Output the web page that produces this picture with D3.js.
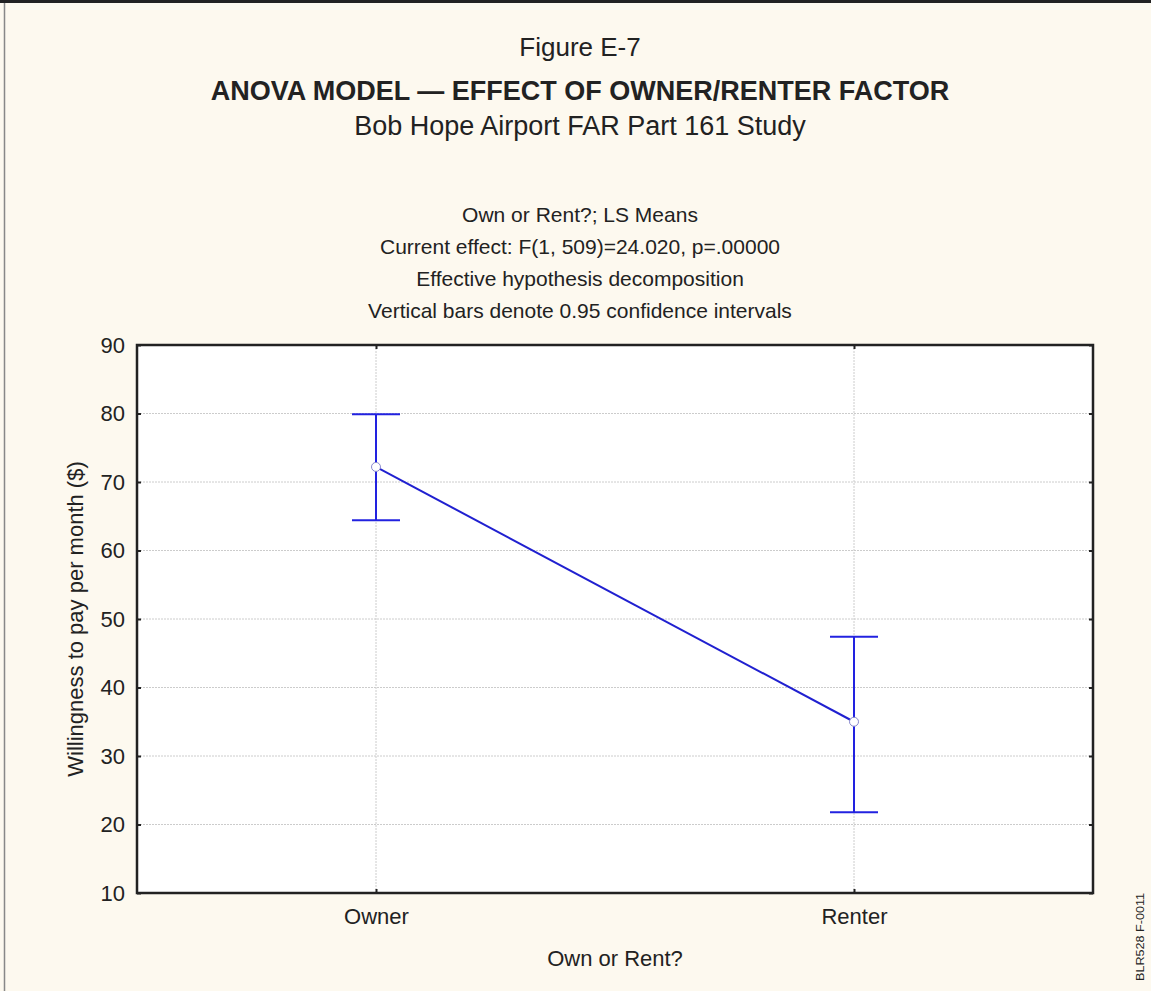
<!doctype html>
<html>
  <head>
    <script src="https://cdnjs.cloudflare.com/ajax/libs/d3/7.8.5/d3.min.js"></script>
    <style>
      body { margin: 0; background: #fdf9ef; }
      svg { display: block; }
      text { font-family: "Liberation Sans", Arial, sans-serif; fill: #222; }
    </style>
  </head>
  <body>
    <svg width="1151" height="991"></svg>
    <script>
        // data
        var groups = ["Owner", "Renter"];
        var means = [72.2, 35.0];
        var upper = [79.9, 47.4];
        var lower = [64.4, 21.8];
        var yTicks = [10, 20, 30, 40, 50, 60, 70, 80, 90];
        var statLines = [
            "Own or Rent?; LS Means",
            "Current effect: F(1, 509)=24.020, p=.00000",
            "Effective hypothesis decomposition",
            "Vertical bars denote 0.95 confidence intervals"
        ];

        var svg = d3.select("svg");
        var pLeft = 137, pRight = 1093, pTop = 345, pBottom = 893;

        // page frame
        svg.append("rect").attr("x", 0).attr("y", 0).attr("width", 1151).attr("height", 991).attr("fill", "#fdf9ef");
        svg.append("line").attr("x1", 0).attr("x2", 1151).attr("y1", 1.5).attr("y2", 1.5).attr("stroke", "#222").attr("stroke-width", 3);
        svg.append("line").attr("x1", 4.5).attr("x2", 4.5).attr("y1", 3).attr("y2", 991).attr("stroke", "#888").attr("stroke-width", 1.5);

        // titles
        svg.append("text").attr("x", 580).attr("y", 56).attr("text-anchor", "middle")
            .style("font-size", "26px").text("Figure E-7");
        svg.append("text").attr("x", 580).attr("y", 100).attr("text-anchor", "middle")
            .style("font-size", "27px").style("font-weight", "bold").text("ANOVA MODEL \u2014 EFFECT OF OWNER/RENTER FACTOR");
        svg.append("text").attr("x", 580).attr("y", 135).attr("text-anchor", "middle")
            .style("font-size", "27px").text("Bob Hope Airport FAR Part 161 Study");

        svg.selectAll("text.stat").data(statLines).enter().append("text")
            .attr("class", "stat")
            .attr("x", 580)
            .attr("y", (d, i) => 222 + i * 32)
            .attr("text-anchor", "middle")
            .style("font-size", "21px")
            .text(d => d);

        var x = d3.scalePoint().domain(groups).range([pLeft, pRight]).padding(0.5);
        var y = d3.scaleLinear().domain([10, 90]).range([pBottom, pTop]);

        // plot background
        svg.append("rect").attr("x", pLeft).attr("y", pTop).attr("width", pRight - pLeft).attr("height", pBottom - pTop).attr("fill", "#fff");

        // grid
        svg.append("g").selectAll("line").data(yTicks.slice(1, -1)).enter().append("line")
            .attr("x1", pLeft).attr("x2", pRight)
            .attr("y1", d => y(d)).attr("y2", d => y(d))
            .attr("stroke", "#ccc").attr("stroke-dasharray", "2,1");
        svg.append("g").selectAll("line").data(groups).enter().append("line")
            .attr("x1", d => x(d)).attr("x2", d => x(d))
            .attr("y1", pTop).attr("y2", pBottom)
            .attr("stroke", "#ccc").attr("stroke-dasharray", "2,1");

        // axes
        var yAxis = svg.append("g").attr("transform", "translate(" + pLeft + ",0)")
            .call(d3.axisLeft(y).tickValues(yTicks).tickSizeInner(-4).tickSizeOuter(0).tickPadding(12));
        var yAxisR = svg.append("g").attr("transform", "translate(" + pRight + ",0)")
            .call(d3.axisRight(y).tickValues(yTicks).tickSizeInner(-4).tickSizeOuter(0).tickFormat(""));
        var xAxis = svg.append("g").attr("transform", "translate(0," + pBottom + ")")
            .call(d3.axisBottom(x).tickSizeInner(-4).tickSizeOuter(0).tickPadding(15));
        var xAxisT = svg.append("g").attr("transform", "translate(0," + pTop + ")")
            .call(d3.axisTop(x).tickSizeInner(-4).tickSizeOuter(0).tickFormat(""));
        [yAxis, yAxisR, xAxis, xAxisT].forEach(g => {
            g.select(".domain").remove();
            g.selectAll(".tick line").attr("stroke", "#222").attr("stroke-width", 2);
            g.selectAll(".tick text").style("font-size", "22px").attr("fill", "#333")
                .style("font-family", "'Liberation Sans', Arial, sans-serif");
        });
        svg.append("rect").attr("x", pLeft).attr("y", pTop).attr("width", pRight - pLeft).attr("height", pBottom - pTop)
            .attr("fill", "none").attr("stroke", "#222").attr("stroke-width", 2.5);

        // axis titles
        svg.append("text").attr("transform", "translate(83," + (pTop + pBottom) / 2 + ") rotate(-90)")
            .attr("text-anchor", "middle").style("font-size", "22px").text("Willingness to pay per month ($)");
        svg.append("text").attr("x", 615).attr("y", 966)
            .attr("text-anchor", "middle").style("font-size", "22px").text("Own or Rent?");
        svg.append("text").attr("transform", "translate(1144,937) rotate(-90)")
            .attr("text-anchor", "middle").style("font-size", "10px").attr("fill", "#444")
            .attr("textLength", 88).attr("lengthAdjust", "spacingAndGlyphs").text("BLR528 F-0011");

        // mean line
        var pts = groups.map((g, i) => [x(g), y(means[i])]);
        svg.append("path").attr("d", d3.line()(pts)).attr("fill", "none").attr("stroke", "#2020d0").attr("stroke-width", 2);

        // error bars
        var eb = svg.append("g").attr("stroke", "#2222e0").attr("stroke-width", 2);
        groups.forEach((g, i) => {
            eb.append("line").attr("x1", x(g)).attr("x2", x(g)).attr("y1", y(upper[i])).attr("y2", y(lower[i]));
            [upper[i], lower[i]].forEach(v => {
                eb.append("line").attr("x1", x(g) - 24).attr("x2", x(g) + 24).attr("y1", y(v)).attr("y2", y(v));
            });
        });

        svg.selectAll("circle").data(groups).enter().append("circle")
            .attr("cx", d => x(d)).attr("cy", (d, i) => y(means[i])).attr("r", 4.5)
            .attr("fill", "#fff").attr("stroke", "#8888cc").attr("stroke-width", 1);
    </script>
  </body>
</html>
